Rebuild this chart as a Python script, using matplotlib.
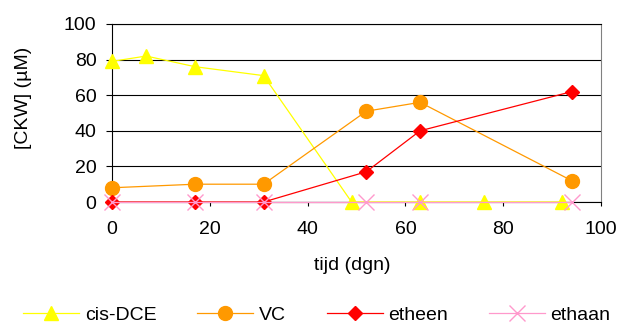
import matplotlib.pyplot as plt

plt.rcParams['font.family'] = ['Liberation Sans', 'DejaVu Sans']

# meetdata
dagen_dce = [0, 7, 17, 31, 49, 63, 76, 92]
cis_dce = [79, 82, 76, 71, 0, 0, 0, 0]

dagen = [0, 17, 31, 52, 63, 94]
vc = [8, 10, 10, 51, 56, 12]
etheen = [0, 0, 0, 17, 40, 62]
ethaan = [0, 0, 0, 0, 0, 0]

ticks = [0, 20, 40, 60, 80, 100]
fs = 14

fig = plt.figure(figsize=(6.2, 3.23), dpi=100)
ax = fig.add_axes([0.1806, 0.3746, 0.7888, 0.5511])

ax.plot(dagen_dce, cis_dce, "-^", color="#FFFF00", lw=0.9, ms=9.5,
        label="cis-DCE", clip_on=False, zorder=3)
ax.plot(dagen, vc, "-o", color="#FF9900", lw=0.9, ms=10,
        label="VC", clip_on=False, zorder=3)
ax.plot(dagen, etheen, "-D", color="#FF0000", lw=0.9, ms=7.5,
        label="etheen", clip_on=False, zorder=3)
ax.plot(dagen, ethaan, "-x", color="#FF99CC", lw=0.9, ms=11.5, mew=1.0,
        label="ethaan", clip_on=False, zorder=3)

ax.set_xlim(0, 100)
ax.set_ylim(0, 100)
ax.set_xticks(ticks)
ax.set_yticks(ticks)
ax.yaxis.grid(True, color="black", lw=0.8)
ax.set_axisbelow(True)
ax.tick_params(axis="x", labelsize=fs, length=3, width=0.8, direction="out", pad=10.5)
ax.tick_params(axis="y", labelsize=fs, length=4.5, width=0.8, direction="out", pad=6.7)

for s in ["left", "bottom", "top"]:
    ax.spines[s].set_color("black")
    ax.spines[s].set_linewidth(0.8)
ax.spines["right"].set_color("#808080")
ax.spines["right"].set_linewidth(0.8)

ax.set_xlabel("tijd (dgn)", fontsize=fs)
ax.xaxis.set_label_coords(0.491, -0.31)
ax.set_ylabel("[CKW] (µM)", fontsize=fs)
ax.yaxis.set_label_coords(-0.1636, 0.584)

fig.legend(loc="center left", bbox_to_anchor=(23 / 620, 1 - 315 / 323), ncol=4,
           frameon=False, fontsize=fs, handlelength=2.9, handletextpad=0.27,
           columnspacing=2.1, borderaxespad=0, borderpad=0)

fig.savefig("out.png", dpi=100)
